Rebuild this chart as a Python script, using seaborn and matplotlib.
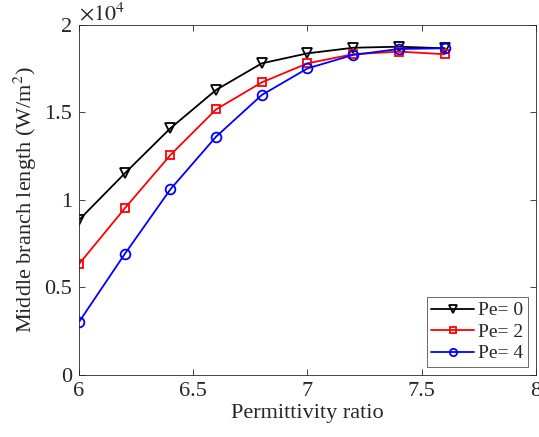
import pandas as pd
import seaborn as sns
import matplotlib.pyplot as plt
from matplotlib.ticker import FuncFormatter

# data
ratio = [6.0, 6.2, 6.4, 6.6, 6.8, 7.0, 7.2, 7.4, 7.6]
pe0 = [8860, 11520, 14100, 16290, 17810, 18380, 18700, 18760, 18670]
pe2 = [6340, 9520, 12570, 15180, 16720, 17810, 18330, 18480, 18330]
pe4 = [3030, 6910, 10610, 13620, 16000, 17520, 18290, 18630, 18670]
labels = ["Pe= 0", "Pe= 2", "Pe= 4"]

sns.set_style("ticks")
plt.rcParams["font.family"] = ["Liberation Serif", "DejaVu Serif"]
plt.rcParams["mathtext.fontset"] = "stix"

fig = plt.figure(figsize=(5.39, 4.37), dpi=100)
ax = fig.add_axes([0.1466, 0.1419, 0.8478, 0.8009])

styles = [("black", "v"), ("red", "s"), ("blue", "o")]
for vals, lab, (col, mk) in zip([pe0, pe2, pe4], labels, styles):
    df = pd.DataFrame({"ratio": ratio, "length": vals})
    sns.lineplot(data=df, x="ratio", y="length", ax=ax, color=col, marker=mk,
                 markersize=7 if mk != "s" else 6, markerfacecolor="none",
                 markeredgecolor=col, markeredgewidth=1.3, linewidth=1.3, label=lab)

ax.set_xlim(6, 8)
ax.set_ylim(0, 20000)
ax.set_xticks([6, 6.5, 7, 7.5, 8])
ax.set_yticks([0, 5000, 10000, 15000, 20000])
ax.yaxis.set_major_formatter(FuncFormatter(lambda v, p: "%g" % (v / 1e4)))
ax.xaxis.set_major_formatter(FuncFormatter(lambda v, p: "%g" % v))
ax.tick_params(direction="in", top=True, right=True, labelsize=16, length=4, width=0.6,
               colors="#262626", pad=5)
for s in ax.spines.values():
    s.set_linewidth(0.6)
    s.set_color("#262626")
ax.set_xlabel("Permittivity ratio", fontsize=16, labelpad=2)
ax.set_ylabel("Middle branch length (W/m$^2$)", fontsize=16, labelpad=4)
ax.text(0.0, 1.0, r"$\times10^4$", transform=ax.transAxes, fontsize=16, va="bottom", ha="left")

leg = ax.legend(loc="lower right", fontsize=14, frameon=True, fancybox=False,
                edgecolor="#262626", handlelength=2.2, borderpad=0.25, labelspacing=0.2,
                handletextpad=0.2, borderaxespad=0.4, markerscale=0.75)
leg.get_frame().set_linewidth(0.6)

fig.savefig("out.png", dpi=100)
